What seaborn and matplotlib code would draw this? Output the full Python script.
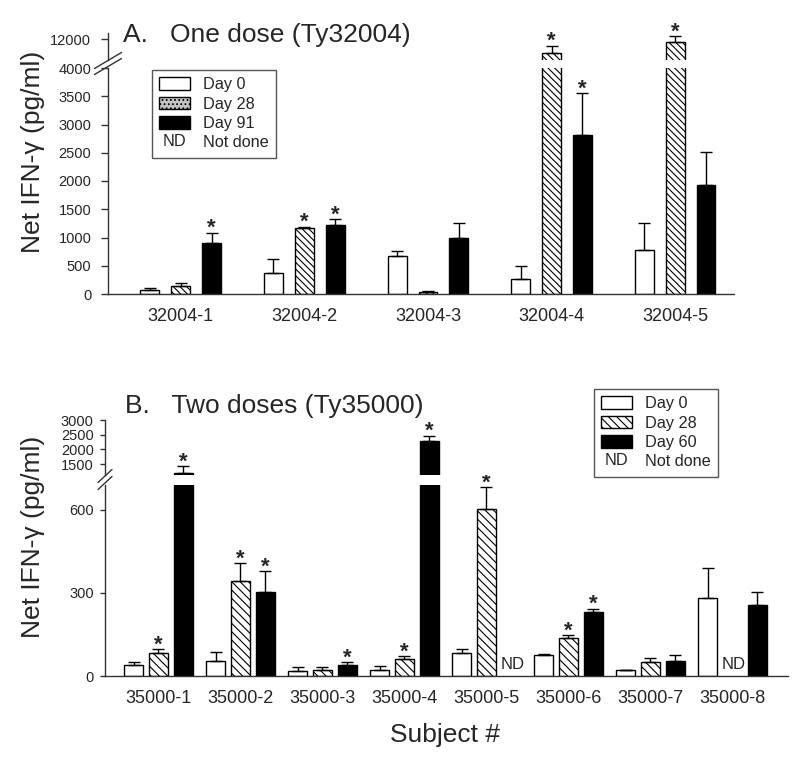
import numpy as np
import pandas as pd
import matplotlib
matplotlib.use("Agg")
import matplotlib.pyplot as plt
import seaborn as sns
from matplotlib.legend_handler import HandlerBase
from matplotlib.text import Text
from matplotlib.patches import Patch
from matplotlib.lines import Line2D

sns.set_style("white")
plt.rcParams['font.family'] = ['Liberation Sans', 'DejaVu Sans']
plt.rcParams['hatch.linewidth'] = 0.8

W, H = 800, 766

# ── panel A: one dose (Ty32004) ──
subjects_a = ["32004-1", "32004-2", "32004-3", "32004-4", "32004-5"]
days_a = ["Day 0", "Day 28", "Day 91"]
day0_a = [65, 375, 670, 270, 780]
day0_a_err = [50, 245, 90, 230, 485]
day28_a = [150, 1160, 35, 10830, 11780]
day28_a_err = [40, 30, 12, 620, 450]
day91_a = [910, 1230, 1000, 2815, 1930]
day91_a_err = [175, 95, 250, 740, 580]
sig0_a = [0, 0, 0, 0, 0]
sig28_a = [0, 1, 0, 1, 1]
sig91_a = [1, 1, 0, 1, 0]

# ── panel B: two doses (Ty35000) ──
subjects_b = ["35000-1", "35000-2", "35000-3", "35000-4",
              "35000-5", "35000-6", "35000-7", "35000-8"]
days_b = ["Day 0", "Day 28", "Day 60"]
day0_b = [40, 55, 18, 20, 83, 75, 20, 282]
day0_b_err = [12, 33, 16, 15, 13, 5, 3, 109]
day28_b = [84, 343, 20, 60, 603, 137, 49, np.nan]
day28_b_err = [12, 65, 14, 12, 79, 10, 15, np.nan]
day60_b = [1200, 302, 40, 2290, np.nan, 231, 55, 258]
day60_b_err = [220, 76, 10, 180, np.nan, 12, 22, 44]
sig0_b = [0, 0, 0, 0, 0, 0, 0, 0]
sig28_b = [1, 1, 0, 1, 1, 1, 0, 0]
sig60_b = [1, 1, 1, 1, 0, 1, 0, 0]


class TextHandler(HandlerBase):
    def create_artists(self, legend, orig_handle, xdescent, ydescent,
                       width, height, fontsize, trans):
        t = Text(width / 2 - xdescent, height / 2 - ydescent,
                 orig_handle.get_text(), ha="center", va="center",
                 fontsize=fontsize, transform=trans)
        return [t]


def fig_rect(left, top, right, bottom):
    # pixel box -> figure fraction
    return [left / W, 1 - bottom / H, (right - left) / W, (bottom - top) / H]


def panel(fig, subjects, days, vals, errs, sigs, box_lo, box_hi,
          lo_lim, hi_lim, lo_ticks, hi_ticks, width, gap, hatch, ticklen, tickpad):
    ax_lo = fig.add_axes(fig_rect(*box_lo))
    ax_hi = fig.add_axes(fig_rect(*box_hi), sharex=ax_lo)

    df = pd.DataFrame({
        "subject": np.repeat(subjects, len(days)),
        "day": days * len(subjects),
        "value": np.array(vals).T.ravel(),
    }).dropna()

    step = width / len(days)
    for ax in (ax_lo, ax_hi):
        sns.barplot(data=df, x="subject", y="value", hue="day",
                    order=subjects, hue_order=days,
                    palette=["white", "white", "black"], saturation=1,
                    width=width, gap=gap, errorbar=None, legend=False,
                    edgecolor="black", linewidth=1, ax=ax)
        for p in ax.patches:
            c = p.get_x() + p.get_width() / 2
            j = int(round((c - round(c)) / step)) + 1
            if j == 1:
                p.set_hatch(hatch)
        for j in range(len(days)):
            x = np.arange(len(subjects)) + (j - 1) * step
            v = np.array(vals[j], float)
            e = np.array(errs[j], float)
            ok = ~np.isnan(v)
            ax.errorbar(x[ok], v[ok], yerr=[np.zeros(ok.sum()), e[ok]],
                        fmt="none", ecolor="black", elinewidth=1,
                        capsize=4, capthick=1, zorder=1)
        for s in ("top", "right"):
            ax.spines[s].set_visible(False)
        for s in ("left", "bottom"):
            ax.spines[s].set_color("#333333")
            ax.spines[s].set_linewidth(1)
        ax.set_xlabel("")
        ax.set_ylabel("")
        ax.tick_params(axis="y", direction="out", length=ticklen, width=1,
                       color="#333333", labelsize=10.5, pad=tickpad, left=True)
        ax.tick_params(axis="x", length=0, labelsize=13, pad=10)

    ax_lo.set_ylim(*lo_lim)
    ax_lo.set_yticks(lo_ticks)
    ax_hi.set_ylim(*hi_lim)
    ax_hi.set_yticks(hi_ticks)
    ax_hi.spines["bottom"].set_visible(False)
    ax_hi.tick_params(axis="x", labelbottom=False)

    # stars and ND labels
    for j in range(len(days)):
        for i in range(len(subjects)):
            v = vals[j][i]
            x = i + (j - 1) * step
            if np.isnan(v):
                ax_lo.annotate("ND", xy=(x, 0), xytext=(1, 3),
                               textcoords="offset points", ha="center",
                               va="bottom", fontsize=12)
                continue
            if sigs[j][i]:
                top = v + errs[j][i]
                ax = ax_hi if top > lo_lim[1] else ax_lo
                ax.annotate("*", xy=(x, top), xytext=(0, -1),
                            textcoords="offset points", ha="center",
                            va="baseline", fontsize=16, fontweight="bold")
    return ax_lo, ax_hi


fig = plt.figure(figsize=(W / 100, H / 100), dpi=100)

# A
a_lo, a_hi = panel(fig, subjects_a, days_a,
                   [day0_a, day28_a, day91_a],
                   [day0_a_err, day28_a_err, day91_a_err],
                   [sig0_a, sig28_a, sig91_a],
                   (108, 68, 734, 294), (108, 33, 734, 59.7),
                   (0, 4000), (10300, 12500),
                   np.arange(0, 4001, 500), [12000],
                   0.75, 0.39, "\\\\\\\\\\", 5, 7)
a_lo.set_xlim(-0.589, 4.476)

# B
b_lo, b_hi = panel(fig, subjects_b, days_b,
                   [day0_b, day28_b, day60_b],
                   [day0_b_err, day28_b_err, day60_b_err],
                   [sig0_b, sig28_b, sig60_b],
                   (105, 485, 788, 676), (105, 420, 788, 475),
                   (0, 690), (1130, 3000),
                   [0, 300, 600], [1500, 2000, 2500, 3000],
                   0.9, 0.227, "\\\\\\\\", 3.6, 4.5)
b_lo.set_xlim(-0.652, 7.677)

# break marks on the y axes
def brk(cx, cy, dx, dy):
    fig.add_artist(Line2D([(cx - dx) / W, (cx + dx) / W],
                          [1 - (cy + dy) / H, 1 - (cy - dy) / H],
                          color="#333333", lw=1))

brk(108, 60.5, 13.5, 8)
brk(108, 66.5, 13.5, 8)
brk(105, 476, 7, 6.5)
brk(105, 483, 7, 6.5)

# legends
def legend(labels, x, y, hatch, mid_face):
    handles = [Patch(facecolor="white", edgecolor="black", lw=1),
               Patch(facecolor=mid_face, edgecolor="black", lw=1, hatch=hatch),
               Patch(facecolor="black", edgecolor="black", lw=1),
               Text(text="ND")]
    fig.legend(handles, labels + ["Not done"], loc="upper left",
               bbox_to_anchor=(x / W, 1 - y / H),
               borderaxespad=0, fontsize=11.7, handlelength=1.9, handleheight=0.8,
               handletextpad=0.8, labelspacing=0.27, borderpad=0.45,
               fancybox=False, framealpha=1, edgecolor="#555555",
               handler_map={Text: TextHandler()})

legend(days_a, 152, 70, "....", "#c4c4c4")
legend(days_b, 594, 389, "\\\\\\\\", "white")

# titles and labels
fig.text(123 / W, 1 - 42 / H, "A.   One dose (Ty32004)", fontsize=19, va="baseline")
fig.text(125 / W, 1 - 413 / H, "B.   Two doses (Ty35000)", fontsize=19, va="baseline")
fig.text(33 / W, 1 - 152 / H, "Net IFN-\u03b3 (pg/ml)", fontsize=19,
         rotation=90, ha="center", va="center")
fig.text(33 / W, 1 - 537 / H, "Net IFN-\u03b3 (pg/ml)", fontsize=19,
         rotation=90, ha="center", va="center")
fig.text(445 / W, 1 - 735 / H, "Subject #", fontsize=19, ha="center", va="center")

fig.savefig("out.png", dpi=100)
